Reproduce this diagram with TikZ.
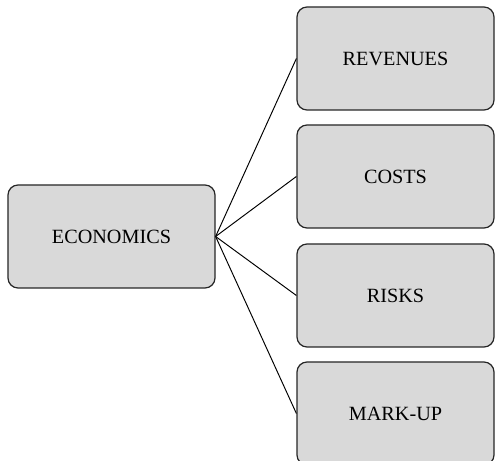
\documentclass[tikz,border=0pt]{standalone}
\usepackage{fontspec}
\setmainfont{Liberation Serif}
\begin{document}
\begin{tikzpicture}[
  box/.style={draw=black!85, fill=gray!30, line width=0.7pt, rounded corners=0.2cm,
    minimum height=2.06cm, font=\fontsize{11.5}{13}\selectfont},
  link/.style={line width=0.55pt}
  ]
  \useasboundingbox (0,0) rectangle (9.94,9.22);

  % left box
  \node[box, minimum width=4.14cm] (econ) at (2.23,4.49) {ECONOMICS};

  % right boxes
  \node[box, minimum width=3.94cm] (rev) at (7.91,8.05) {REVENUES};
  \node[box, minimum width=3.94cm] (cost) at (7.91,5.69) {COSTS};
  \node[box, minimum width=3.94cm] (risk) at (7.91,3.31) {RISKS};
  \node[box, minimum width=3.94cm] (mark) at (7.91,0.95) {MARK-UP};

  % links
  \foreach \b in {rev,cost,risk,mark}
    \draw[link] (econ.east) -- (\b.west);

\end{tikzpicture}
\end{document}
